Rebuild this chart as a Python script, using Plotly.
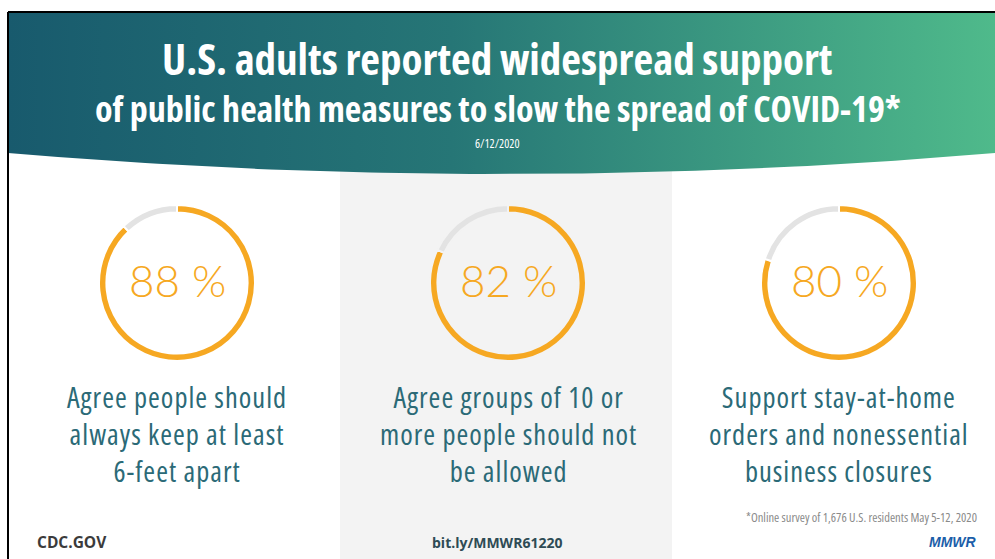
import numpy as np
import plotly.graph_objects as go

W, H = 995, 559

# Survey results
measures = ["distancing", "gatherings", "stay_home"]
support_pct = [88, 82, 80]
descriptions = [
    ["Agree people should", "always keep at least", "6-feet apart"],
    ["Agree groups of 10 or", "more people should not", "be allowed"],
    ["Support stay-at-home", "orders and nonessential", "business closures"],
]
title_line1 = "U.S. adults reported widespread support"
title_line2 = "of public health measures to slow the spread of COVID-19*"
date_text = "6/12/2020"
footnote = "*Online survey of 1,676 U.S. residents May 5-12, 2020"

# Layout constants (pixels)
ring_cx = [177, 508, 839]
ring_cy = 283
ring_r = 78
desc_y = 434
panel_bg = ["white", "#f3f3f3", "white"]

ORANGE = "#f6a822"
RING_GREY = "#e3e3e3"
TEAL_TEXT = "#2b6a77"
SANS = "Open Sans, sans-serif"


def narrow(text, spacing=None):
    """Wrap each line so it renders in the condensed width of the font."""
    style = "font-stretch:75%"
    if spacing is not None:
        style += f";letter-spacing:{spacing}px"
    return "<br>".join(
        f'<span style="{style}">{part}</span>' for part in text.split("<br>")
    )


fig = go.Figure()

# Header band with curved lower edge
t = np.linspace(0, 1, 80)
bx = (1 - t) ** 2 * 995 + 2 * (1 - t) * t * 501 + t ** 2 * 8
by = (1 - t) ** 2 * 153 + 2 * (1 - t) * t * 195 + t ** 2 * 153
hx = np.concatenate([[8, 995], bx, [8]])
hy = np.concatenate([[12, 12], by, [12]])
fig.add_trace(go.Scatter(
    x=hx, y=hy, mode="lines", fill="toself",
    line=dict(width=0, color="rgba(0,0,0,0)"),
    fillgradient=dict(type="horizontal",
                      colorscale=[[0, "#185a6d"], [0.45, "#267676"], [1, "#4fba8b"]]),
    hoverinfo="skip", showlegend=False,
))

# Donut rings
for cx, v, bg in zip(ring_cx, support_pct, panel_bg):
    fig.add_trace(go.Pie(
        values=[v, 100 - v],
        sort=False, direction="clockwise", rotation=0,
        hole=0.905,
        marker=dict(colors=[ORANGE, RING_GREY], line=dict(color=bg, width=2)),
        textinfo="none", hoverinfo="skip", showlegend=False,
        domain=dict(x=[(cx - ring_r) / W, (cx + ring_r) / W],
                    y=[1 - (ring_cy + ring_r) / H, 1 - (ring_cy - ring_r) / H]),
    ))

annotations = []
for cx, v, desc in zip(ring_cx, support_pct, descriptions):
    annotations.append(dict(
        x=cx, y=ring_cy - 3, text=f"{v} %", showarrow=False,
        font=dict(family="Lato, Inter, sans-serif", size=44, color=ORANGE, weight=300),
        xanchor="center", yanchor="middle",
    ))
    annotations.append(dict(
        x=cx, y=desc_y, text=narrow("<br>".join(desc), 1.0), showarrow=False,
        font=dict(family=SANS, size=28.5, color=TEAL_TEXT, weight=500),
        xanchor="center", yanchor="middle",
    ))

annotations += [
    dict(x=497, y=58, text=f"<b>{narrow(title_line1)}</b>", showarrow=False,
         font=dict(family=SANS, size=43, color="white"), xanchor="center", yanchor="middle"),
    dict(x=498, y=108, text=f"<b>{narrow(title_line2)}</b>", showarrow=False,
         font=dict(family=SANS, size=36, color="white"), xanchor="center", yanchor="middle"),
    dict(x=497, y=143, text=narrow(date_text), showarrow=False,
         font=dict(family=SANS, size=12, color="white"), xanchor="center", yanchor="middle"),
    dict(x=35, y=542, text="<b>CDC.GOV</b>", showarrow=False,
         font=dict(family=SANS, size=15.5, color="#3b3b3b"),
         xanchor="left", yanchor="middle"),
    dict(x=497, y=542, text="<b>bit.ly/MMWR61220</b>", showarrow=False,
         font=dict(family=SANS, size=14, color="#2e4b55"),
         xanchor="center", yanchor="middle"),
    dict(x=979, y=517, text=narrow(footnote), showarrow=False,
         font=dict(family=SANS, size=12.5, color="#8a8a8a"),
         xanchor="right", yanchor="middle"),
    dict(x=979, y=542, text="<b><i>MMWR</i></b>", showarrow=False,
         font=dict(family="Liberation Sans, Arial, sans-serif", size=14, color="#1b5ea9"),
         xanchor="right", yanchor="middle"),
]

shapes = [
    dict(type="rect", x0=340, x1=672, y0=150, y1=559, xref="x", yref="y",
         fillcolor="#f3f3f3", line=dict(width=0), layer="below"),
    dict(type="line", x0=8, x1=995, y0=12, y1=12, xref="x", yref="y",
         line=dict(color="black", width=2)),
    dict(type="line", x0=8, x1=8, y0=12, y1=559, xref="x", yref="y",
         line=dict(color="black", width=2)),
]

fig.update_layout(
    width=W, height=H,
    margin=dict(l=0, r=0, t=0, b=0),
    paper_bgcolor="white", plot_bgcolor="white",
    xaxis=dict(range=[0, W], visible=False, fixedrange=True),
    yaxis=dict(range=[H, 0], visible=False, fixedrange=True),
    annotations=annotations, shapes=shapes,
    showlegend=False,
)

fig.write_html("out.html")
